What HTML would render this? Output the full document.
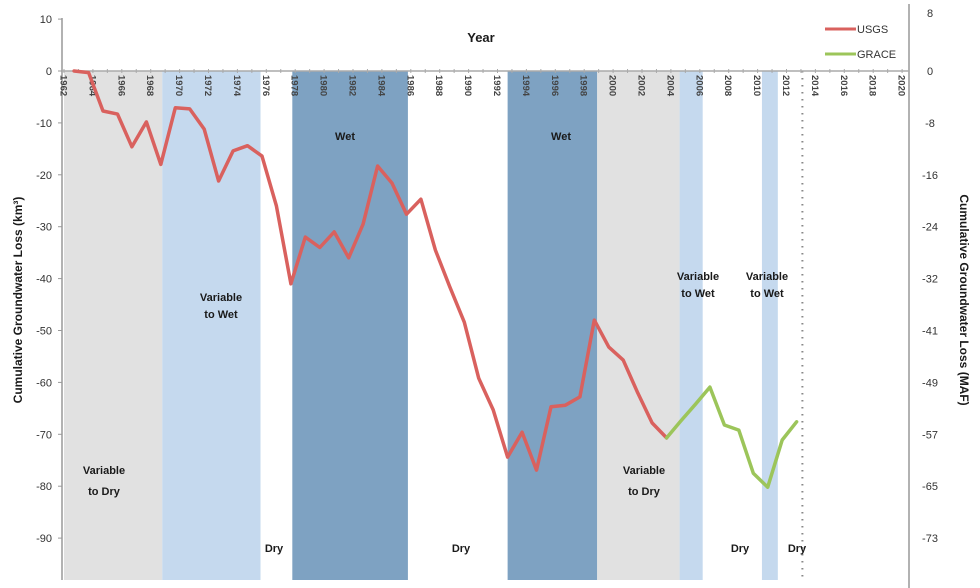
<!DOCTYPE html>
<html><head><meta charset="utf-8">
<style>
html,body{margin:0;padding:0;background:#fff;}
svg{display:block;font-family:"Liberation Sans",sans-serif;}
</style></head>
<body>
<svg id="chart" width="980" height="588" viewBox="0 0 980 588">
<g id="bands"></g>
<g id="axes"></g>
<g id="series"></g>
<g id="labels"></g>
</svg>
<script>
const usgsYears = [1963,1964,1965,1966,1967,1968,1969,1970,1971,1972,1973,1974,1975,1976,1977,1978,1979,1980,1981,1982,1983,1984,1985,1986,1987,1988,1989,1990,1991,1992,1993,1994,1995,1996,1997,1998,1999,2000,2001,2002,2003,2004];
const usgsValues = [0,-0.3,-7.7,-8.3,-14.6,-9.8,-18,-7.1,-7.3,-11.2,-21.2,-15.4,-14.4,-16.4,-26,-41,-32,-34,-31,-36,-29.5,-18.3,-21.6,-27.6,-24.7,-34.5,-41.6,-48.4,-59.2,-65.3,-74.4,-69.6,-76.9,-64.7,-64.4,-62.8,-48,-53.2,-55.7,-62,-67.8,-70.7];
const graceYears = [2004,2005,2006,2007,2008,2009,2010,2011,2012,2013];
const graceValues = [-70.7,-67.4,-64.2,-60.9,-68.2,-69.2,-77.5,-80.2,-71.1,-67.6];
const bandStarts = [1962,1968.8,1977.8,1992.7,1998.9,2004.6,2010.3];
const bandEnds = [1968.8,1975.6,1985.8,1998.9,2004.6,2006.2,2011.4];
const bandKinds = ["gray","light","dark","dark","gray","light","light"];
const leftTicks = [10,0,-10,-20,-30,-40,-50,-60,-70,-80,-90];
const rightTickLabels = ["8","0","-8","-16","-24","-32","-41","-49","-57","-65","-73"];
const yearTicks = [1962,1964,1966,1968,1970,1972,1974,1976,1978,1980,1982,1984,1986,1988,1990,1992,1994,1996,1998,2000,2002,2004,2006,2008,2010,2012,2014,2016,2018,2020];

const NS="http://www.w3.org/2000/svg";
const x = yr => 64 + (yr-1962)*14.45;
const y = v => 71 - v*5.19;
function mk(tag, attrs, parent, text){
  const e=document.createElementNS(NS,tag);
  for(const k in attrs) e.setAttribute(k,attrs[k]);
  if(text!==undefined) e.textContent=text;
  parent.appendChild(e); return e;
}
const bands=document.getElementById('bands'), axes=document.getElementById('axes'),
      series=document.getElementById('series'), labels=document.getElementById('labels');
const colors={gray:"#e1e1e1",light:"#c5d9ee",dark:"#7ea2c2"};
bandStarts.forEach((s,i)=>{
  const r=mk('rect',{x:x(s),y:71,width:x(bandEnds[i])-x(s),height:509,fill:colors[bandKinds[i]]},bands);
  
  
});
const dl=mk('line',{x1:x(2013.1),y1:71,x2:x(2013.1),y2:580,stroke:"#888","stroke-width":2,"stroke-dasharray":"1.5 5.5"},bands);



const la=mk('line',{x1:62,y1:18,x2:62,y2:580,stroke:"#999","stroke-width":1.5},axes);
 
const ra=mk('line',{x1:909,y1:4,x2:909,y2:588,stroke:"#999","stroke-width":1.5},axes);
 
const xa=mk('line',{x1:62,y1:71,x2:909,y2:71,stroke:"#aaa","stroke-width":1.5},axes);
 
leftTicks.forEach((v,i)=>{
  mk('line',{x1:58,y1:y(v),x2:62,y2:y(v),stroke:"#999"},axes);
  const t=mk('text',{x:52,y:y(v)+4,"text-anchor":"end","font-size":11,fill:"#333"},axes,String(v));
   
  const r=mk('text',{x:930,y:y(v)+4-(i===0?6:0),"text-anchor":"middle","font-size":11,fill:"#333"},axes,rightTickLabels[i]);
   
});
for(let yr=1962; yr<=2020; yr++){
  mk('line',{x1:x(yr),y1:69,x2:x(yr),y2:73,stroke:"#aaa"},axes);
}
yearTicks.forEach(yr=>{
  const tx=x(yr);
  const t=mk('text',{x:0,y:0,"font-size":9.5,"font-weight":"bold",fill:"#444",transform:`translate(${tx-3.5},75) rotate(90)`},axes,String(yr));
   
});

function line(xs,vs,color,name){
  const d=xs.map((yr,i)=>(i?'L':'M')+x(yr-0.3).toFixed(1)+','+y(vs[i]).toFixed(1)).join(' ');
  const p=mk('path',{d:d,fill:"none",stroke:color,"stroke-width":3.5,"stroke-linejoin":"round","stroke-linecap":"round"},series);
   
}
line(usgsYears,usgsValues,"#d9615e","usgs-line");
line(graceYears,graceValues,"#9cc55a","grace-line");

const lg=mk('g',{},labels);  
mk('line',{x1:825,y1:29,x2:856,y2:29,stroke:"#d9615e","stroke-width":3},lg);
const l1=mk('text',{x:857,y:33,"font-size":11,fill:"#333"},lg,"USGS");
 
mk('line',{x1:825,y1:54,x2:856,y2:54,stroke:"#9cc55a","stroke-width":3},lg);
const l2=mk('text',{x:857,y:58,"font-size":11,fill:"#333"},lg,"GRACE");
 

function lbl(txt,cx,cy,name,size){
  const t=mk('text',{x:cx,y:cy,"text-anchor":"middle","font-size":size||11,"font-weight":"bold",fill:"#1a1a1a"},labels,txt);
   
}
lbl("Year",481,42,"x-axis-title",13);
lbl("Wet",345,140,"wet-label");
lbl("Wet",561,140,"wet-label");
lbl("Variable",221,301,"variable-to-wet-label");
lbl("to Wet",221,318,"variable-to-wet-label");
lbl("Variable",104,474,"variable-to-dry-label");
lbl("to Dry",104,495,"variable-to-dry-label");
lbl("Variable",644,474,"variable-to-dry-label");
lbl("to Dry",644,495,"variable-to-dry-label");
lbl("Variable",698,280,"variable-to-wet-label");
lbl("to Wet",698,297,"variable-to-wet-label");
lbl("Variable",767,280,"variable-to-wet-label");
lbl("to Wet",767,297,"variable-to-wet-label");
lbl("Dry",274,552,"dry-label");
lbl("Dry",461,552,"dry-label");
lbl("Dry",740,552,"dry-label");
lbl("Dry",797,552,"dry-label");
const yt=mk('text',{x:0,y:0,"text-anchor":"middle","font-size":12,"font-weight":"bold",fill:"#1a1a1a",transform:"translate(22,300) rotate(-90)"},labels,"Cumulative Groundwater Loss (km³)");
 
const yt2=mk('text',{x:0,y:0,"text-anchor":"middle","font-size":12,"font-weight":"bold",fill:"#1a1a1a",transform:"translate(960,300) rotate(90)"},labels,"Cumulative Groundwater Loss (MAF)");
 
</script>
</body></html>
